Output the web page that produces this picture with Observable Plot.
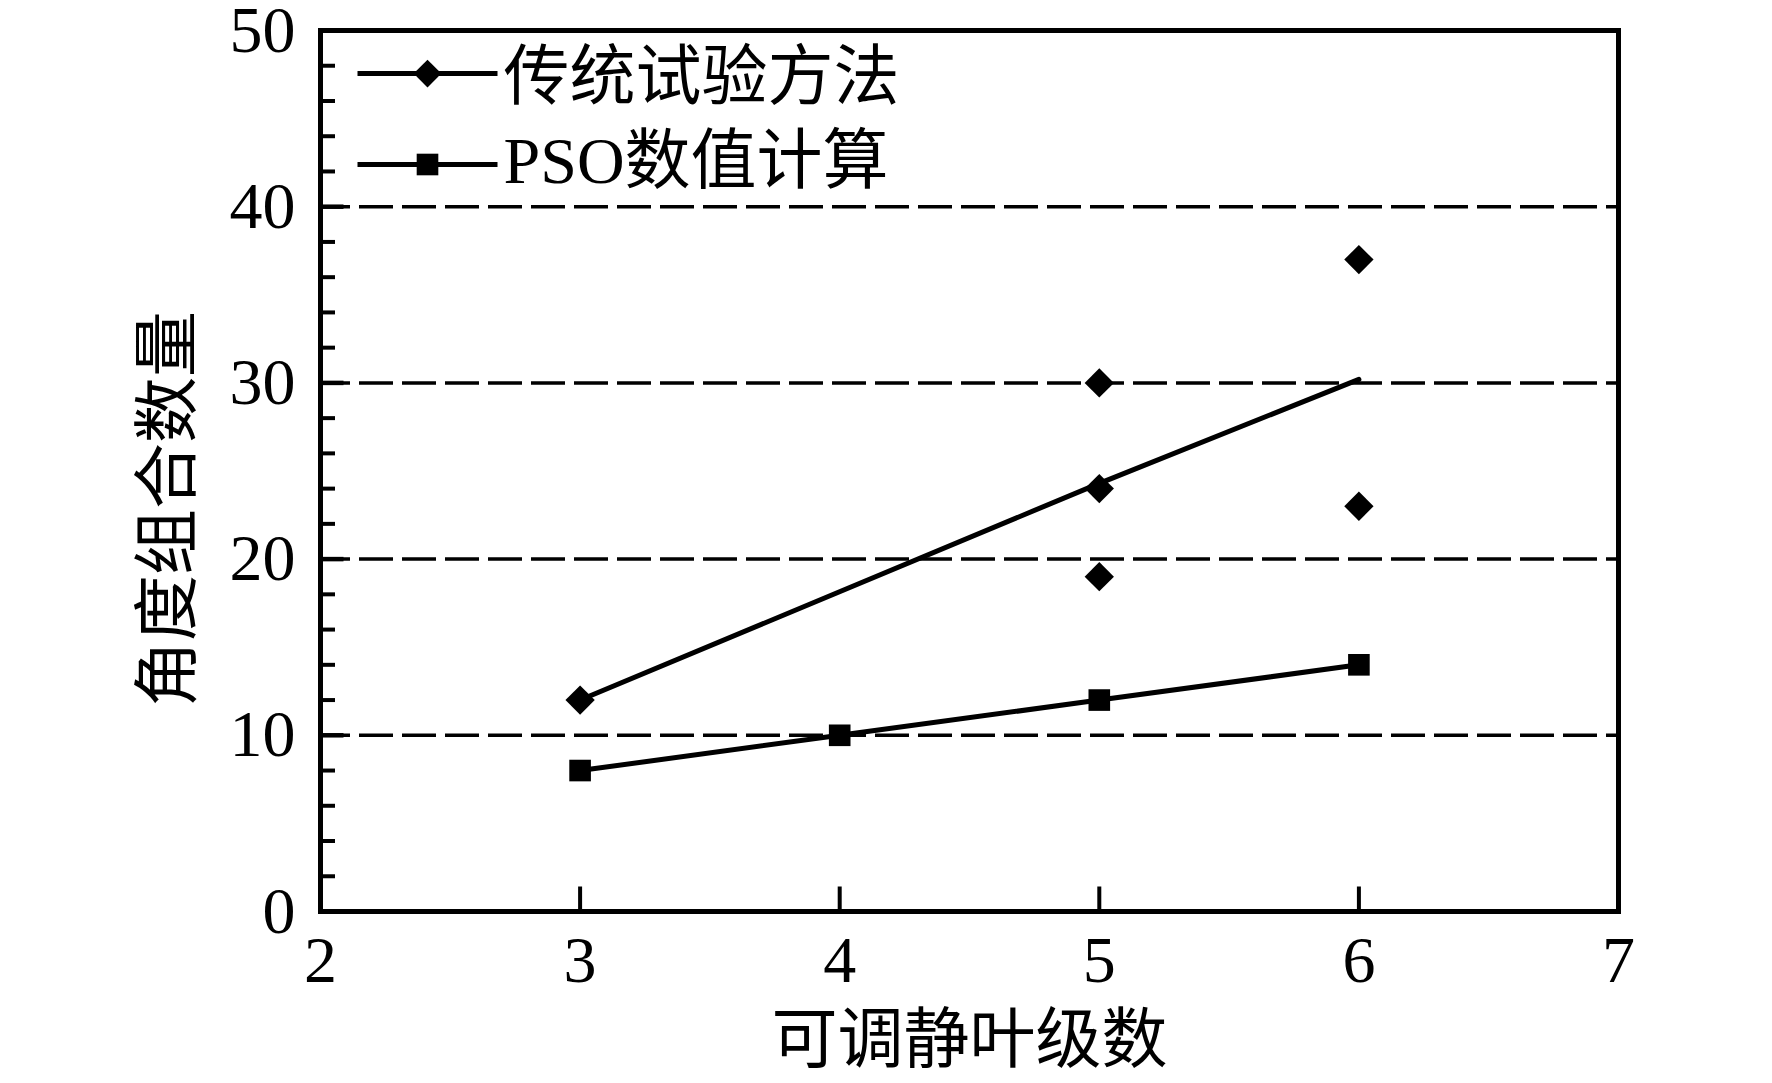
<!DOCTYPE html>
<html>
<head>
<meta charset="utf-8">
<script src="https://cdn.jsdelivr.net/npm/d3@7"></script>
<script src="https://cdn.jsdelivr.net/npm/@observablehq/plot@0.6"></script>
<style>
  html, body { margin: 0; padding: 0; background: #fff; }
</style>
</head>
<body>
<div id="chart"></div>
<script>
// ---- data ----
const seriesNames = ["传统试验方法", "PSO数值计算"];
const xTitle = "可调静叶级数";
const yTitle = "角度组合数量";

// 传统试验方法: individual points
const tradX = [3, 5, 5, 5, 6, 6];
const tradY = [12, 30, 24, 19, 37, 23];
// 传统试验方法: connecting line
const tradLineX = [3, 5, 6];
const tradLineY = [12, 24.3, 30.2];

// PSO数值计算
const psoX = [3, 4, 5, 6];
const psoY = [8, 10, 12, 14];

// axes
const xTickLabels = [2, 3, 4, 5, 6, 7];
const xTickMarks = [3, 4, 5, 6];
const yTickLabels = [0, 10, 20, 30, 40, 50];
const yMajorTicks = [10, 20, 30, 40];
const yMinorTicks = [2, 4, 6, 8, 12, 14, 16, 18, 22, 24, 26, 28, 32, 34, 36, 38, 42, 44, 46, 48];

// ---- build tables ----
const tradPts = tradX.map((x, i) => ({x, y: tradY[i]}));
const tradLine = tradLineX.map((x, i) => ({x, y: tradLineY[i]}));
const pso = psoX.map((x, i) => ({x, y: psoY[i]}));

const serif = "'Liberation Serif', 'Times New Roman', 'Noto Sans CJK SC', serif";
const FS = 66;

// custom tick glyphs (pixel lengths)
const hTick = len => ({draw(ctx) { ctx.moveTo(0, 0); ctx.lineTo(len, 0); }});
const vTick = len => ({draw(ctx) { ctx.moveTo(0, 0); ctx.lineTo(0, -len); }});
const legendLine = half => ({draw(ctx) { ctx.moveTo(-half, 0); ctx.lineTo(half, 0); }});

const chart = Plot.plot({
  width: 1772,
  height: 1083,
  marginLeft: 320,
  marginRight: 154,
  marginTop: 30,
  marginBottom: 172,
  style: {fontFamily: serif, fontSize: FS + "px", background: "#fff", color: "#000", overflow: "visible"},
  x: {domain: [2, 7]},
  y: {domain: [0, 50]},
  marks: [
    // dashed grid
    Plot.ruleY(yMajorTicks, {stroke: "#000", strokeWidth: 3.5, strokeDasharray: "34,9", strokeDashoffset: 4}),
    // inward ticks
    Plot.dot(yMinorTicks, {y: d => d, frameAnchor: "left", symbol: hTick(14.5), fill: "none", stroke: "#000", strokeWidth: 4}),
    Plot.dot(yMajorTicks, {y: d => d, frameAnchor: "left", symbol: hTick(23), fill: "none", stroke: "#000", strokeWidth: 4.5}),
    Plot.dot(xTickMarks, {x: d => d, frameAnchor: "bottom", symbol: vTick(25), fill: "none", stroke: "#000", strokeWidth: 4}),
    // axes labels
    Plot.axisY({ticks: yTickLabels, tickSize: 0, tickPadding: 25, tickFormat: d => String(d), fontSize: FS, fontFamily: serif, label: null}),
    Plot.axisX({ticks: xTickLabels, tickSize: 0, tickPadding: 24, tickFormat: d => String(d), fontSize: FS, fontFamily: serif, label: null}),
    // data
    Plot.line(tradLine, {x: "x", y: "y", stroke: "#000", strokeWidth: 5}),
    Plot.line(pso, {x: "x", y: "y", stroke: "#000", strokeWidth: 5}),
    Plot.dot(tradPts, {x: "x", y: "y", symbol: "diamond2", r: 13.2, fill: "#000", stroke: "none"}),
    Plot.dot(pso, {x: "x", y: "y", symbol: "square", r: 12.2, fill: "#000", stroke: "none"}),
    // frame
    Plot.frame({stroke: "#000", strokeWidth: 5}),
    // legend
    Plot.dot([seriesNames[0]], {frameAnchor: "top-left", dx: 107, dy: 43, symbol: legendLine(70), fill: "none", stroke: "#000", strokeWidth: 5}),
    Plot.dot([seriesNames[0]], {frameAnchor: "top-left", dx: 107, dy: 43, symbol: "diamond2", r: 12.5, fill: "#000", stroke: "none"}),
    Plot.text([seriesNames[0]], {text: d => d, frameAnchor: "top-left", dx: 183, dy: 47, textAnchor: "start", lineAnchor: "middle", fontSize: FS, fontFamily: serif, fill: "#000"}),
    Plot.dot([seriesNames[1]], {frameAnchor: "top-left", dx: 107, dy: 134, symbol: legendLine(70), fill: "none", stroke: "#000", strokeWidth: 5}),
    Plot.dot([seriesNames[1]], {frameAnchor: "top-left", dx: 107, dy: 134, symbol: "square", r: 12.2, fill: "#000", stroke: "none"}),
    Plot.text([seriesNames[1]], {text: d => d, frameAnchor: "top-left", dx: 183, dy: 131, textAnchor: "start", lineAnchor: "middle", fontSize: FS, fontFamily: serif, fill: "#000"}),
    // axis titles
    Plot.text([xTitle], {text: d => d, frameAnchor: "bottom", dy: 129, textAnchor: "middle", lineAnchor: "middle", fontSize: FS, fontFamily: serif, fill: "#000"}),
    Plot.text([yTitle], {text: d => d, frameAnchor: "left", dx: -152, dy: 38, rotate: -90, textAnchor: "middle", lineAnchor: "middle", fontSize: FS, fontFamily: serif, fill: "#000"})
  ]
});
document.getElementById("chart").appendChild(chart);
</script>
</body>
</html>
